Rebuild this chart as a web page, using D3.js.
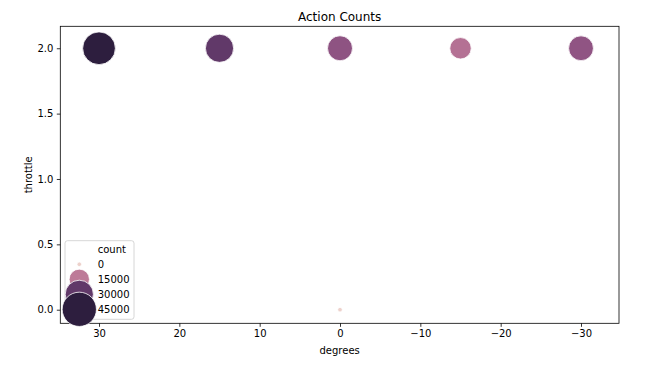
<!DOCTYPE html>
<html>
<head>
<meta charset="utf-8">
<script src="https://cdn.jsdelivr.net/npm/d3@7"></script>
<style>
  html, body { margin: 0; padding: 0; background: #fff; }
  svg { display: block; font-family: "DejaVu Sans", sans-serif; }
</style>
</head>
<body>
<svg id="chart" width="666" height="366"></svg>
<script>
// ---- data ----
const degrees  = [30, 15, 0, -15, -30, 0];
const throttle = [2, 2, 2, 2, 2, 0];
const counts   = [41000, 30000, 23300, 16800, 23000, 0];

const xTicks = [30, 20, 10, 0, -10, -20, -30];
const yTicks = [0.0, 0.5, 1.0, 1.5, 2.0];
const legendLevels = [0, 15000, 30000, 45000];
const legendTitle = "count";
const titleText = "Action Counts";
const xLabel = "degrees";
const yLabel = "throttle";

// ---- layout ----
const plot = { left: 60.3, right: 619, top: 26.3, bottom: 323.3 };
const svg = d3.select("#chart");

const x = d3.scaleLinear().domain([34.82, -34.73]).range([plot.left, plot.right]);
const y = d3.scaleLinear().domain([-0.104, 2.168]).range([plot.bottom, plot.top]);

// size: marker area linear in count
const areaScale = d3.scaleLinear().domain([0, 45000]).range([4, 283]);
const radius = c => Math.sqrt(Math.max(0, areaScale(c))) + 0.3;

// seaborn default cubehelix colormap (light .85 -> dark .15)
function cubehelixColor(t) {
  const start = 0, rot = 0.4, gamma = 1, hue = 0.8, light = 0.85, dark = 0.15;
  const xv = light + (dark - light) * t;
  const f = (p0, p1) => {
    const xg = Math.pow(xv, gamma);
    const a = hue * xg * (1 - xg) / 2;
    const phi = 2 * Math.PI * (start / 3 + rot * xv);
    return Math.max(0, Math.min(1, xg + a * (p0 * Math.cos(phi) + p1 * Math.sin(phi))));
  };
  const r = f(-0.14861, 1.78277), g = f(-0.29227, -0.90649), b = f(1.97294, 0.0);
  return d3.rgb(r * 255, g * 255, b * 255).formatHex();
}
const hueNorm = d3.scaleLinear().domain([0, 37500]).range([0, 1]).clamp(true);
const color = c => cubehelixColor(hueNorm(c));

// ---- points ----
const pts = degrees.map((d, i) => ({ deg: d, thr: throttle[i], c: counts[i] }));
svg.append("g").selectAll("circle").data(pts).join("circle")
  .attr("cx", d => x(d.deg))
  .attr("cy", d => y(d.thr))
  .attr("r", d => radius(d.c))
  .attr("fill", d => color(d.c))
  .attr("stroke", "#fff")
  .attr("stroke-width", 0.8);

// ---- axes ----
const xAxis = d3.axisBottom(x).tickValues(xTicks).tickSize(3.5).tickPadding(3.5)
  .tickFormat(d => d < 0 ? "\u2212" + Math.abs(d) : String(d));
const gx = svg.append("g").attr("transform", `translate(0,${plot.bottom})`).call(xAxis);
gx.select(".domain").remove();
gx.selectAll("line").attr("stroke", "#000").attr("stroke-width", 0.8);
gx.selectAll("text").attr("font-size", 10).attr("fill", "#000")
  .attr("font-family", "DejaVu Sans");

const yAxis = d3.axisLeft(y).tickValues(yTicks).tickSize(3.5).tickPadding(3.5)
  .tickFormat(d3.format(".1f"));
const gy = svg.append("g").attr("transform", `translate(${plot.left},0)`).call(yAxis);
gy.select(".domain").remove();
gy.selectAll("line").attr("stroke", "#000").attr("stroke-width", 0.8);
gy.selectAll("text").attr("font-size", 10).attr("fill", "#000")
  .attr("font-family", "DejaVu Sans");

// spines
svg.append("rect")
  .attr("x", plot.left).attr("y", plot.top)
  .attr("width", plot.right - plot.left).attr("height", plot.bottom - plot.top)
  .attr("fill", "none").attr("stroke", "#000").attr("stroke-width", 0.8);

// ---- labels ----
svg.append("text").attr("x", (plot.left + plot.right) / 2).attr("y", 20.5)
  .attr("text-anchor", "middle").attr("font-size", 12).attr("fill", "#000").text(titleText);
svg.append("text").attr("x", (plot.left + plot.right) / 2).attr("y", 354)
  .attr("text-anchor", "middle").attr("font-size", 10).attr("fill", "#000").text(xLabel);
svg.append("text")
  .attr("transform", `translate(31.5,${(plot.top + plot.bottom) / 2}) rotate(-90)`)
  .attr("text-anchor", "middle").attr("font-size", 10).attr("fill", "#000").text(yLabel);

// ---- legend ----
const lg = svg.append("g");
lg.append("rect").attr("x", 65).attr("y", 240.7).attr("width", 69).attr("height", 78.6)
  .attr("rx", 2.5).attr("fill", "#fff").attr("fill-opacity", 0.8)
  .attr("stroke", "#cccccc").attr("stroke-width", 0.8);
const rowY0 = 249.3, rowH = 15;
lg.append("text").attr("x", 97.7).attr("y", rowY0).attr("dy", "0.35em")
  .attr("font-size", 10).attr("fill", "#000").text(legendTitle);
legendLevels.forEach((v, i) => {
  const cy = rowY0 + rowH * (i + 1);
  lg.append("circle").attr("cx", 79.3).attr("cy", cy).attr("r", radius(v))
    .attr("fill", color(v)).attr("stroke", "#fff").attr("stroke-width", 0.8);
});
legendLevels.forEach((v, i) => {
  const cy = rowY0 + rowH * (i + 1);
  lg.append("text").attr("x", 97.7).attr("y", cy).attr("dy", "0.35em")
    .attr("font-size", 10).attr("fill", "#000").text(String(v));
});
</script>
</body>
</html>
